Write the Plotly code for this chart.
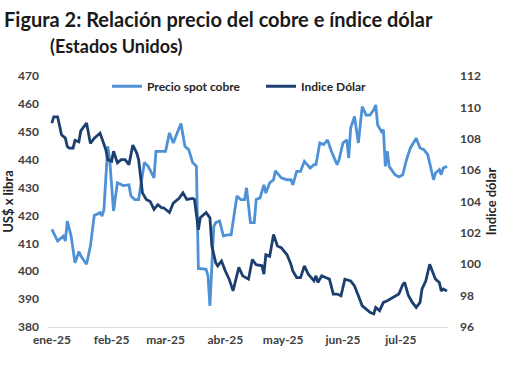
import plotly.graph_objects as go

copper_dates = [
    "2025-01-01", "2025-01-04", "2025-01-07", "2025-01-08", "2025-01-09", "2025-01-11",
    "2025-01-13", "2025-01-15", "2025-01-16", "2025-01-19", "2025-01-21", "2025-01-23",
    "2025-01-26", "2025-01-27", "2025-01-28", "2025-01-30", "2025-01-31", "2025-02-02",
    "2025-02-04", "2025-02-07", "2025-02-10", "2025-02-11", "2025-02-13", "2025-02-15",
    "2025-02-18", "2025-02-20", "2025-02-23", "2025-02-24", "2025-02-26", "2025-03-01",
    "2025-03-03", "2025-03-05", "2025-03-07", "2025-03-09", "2025-03-11", "2025-03-13",
    "2025-03-15", "2025-03-17", "2025-03-18", "2025-03-22", "2025-03-23", "2025-03-24",
    "2025-03-26", "2025-03-27", "2025-03-29", "2025-03-31", "2025-04-02", "2025-04-04",
    "2025-04-07", "2025-04-09", "2025-04-11", "2025-04-12", "2025-04-14", "2025-04-16",
    "2025-04-17", "2025-04-19", "2025-04-21", "2025-04-22", "2025-04-24", "2025-04-26",
    "2025-04-27", "2025-04-30", "2025-05-03", "2025-05-05", "2025-05-06", "2025-05-08",
    "2025-05-10", "2025-05-12", "2025-05-15", "2025-05-17", "2025-05-18", "2025-05-20",
    "2025-05-22", "2025-05-24", "2025-05-26", "2025-05-29", "2025-05-30", "2025-06-01",
    "2025-06-03", "2025-06-04", "2025-06-05", "2025-06-07", "2025-06-09", "2025-06-11",
    "2025-06-13", "2025-06-15", "2025-06-17", "2025-06-18", "2025-06-19", "2025-06-21",
    "2025-06-22", "2025-06-23", "2025-06-24", "2025-06-25", "2025-06-28", "2025-06-30",
    "2025-07-02", "2025-07-04", "2025-07-06", "2025-07-09", "2025-07-11", "2025-07-13",
    "2025-07-15", "2025-07-17", "2025-07-18", "2025-07-19", "2025-07-21", "2025-07-22",
    "2025-07-23", "2025-07-25",
]
copper_values = [
    415.0, 410.8, 412.6, 410.8, 418.0, 412.6,
    403.0, 407.0, 405.5, 402.5, 409.0, 420.0,
    421.0, 419.8, 422.0, 444.8, 440.0, 421.6,
    431.7, 430.7, 431.0, 427.0, 425.7, 425.7,
    439.0, 437.6, 433.5, 443.0, 443.0, 443.0,
    449.6, 446.0, 449.6, 453.0, 444.8, 443.6,
    439.0, 437.6, 401.0, 400.7, 398.3, 387.6,
    416.0, 417.4, 418.0, 412.6, 413.0, 413.0,
    427.0, 425.7, 425.7, 429.9, 417.4, 417.4,
    425.7, 426.3, 431.0, 428.0, 431.7, 432.8,
    436.0, 433.5, 432.8, 432.8, 431.0, 435.8,
    435.8, 439.4, 437.0, 438.2, 438.2, 446.0,
    445.4, 447.1, 443.0, 438.2, 440.0, 446.0,
    447.1, 440.6, 451.3, 455.5, 446.0, 459.0,
    456.0, 456.0, 457.9, 459.6, 452.5, 450.0,
    450.7, 437.6, 443.0, 437.6, 434.6, 433.8,
    434.6, 440.0, 444.2, 447.7, 444.2, 443.6,
    441.8, 436.4, 432.8, 435.2, 436.4, 434.6,
    437.0, 437.6,
]

dollar_dates = [
    "2025-01-01", "2025-01-02", "2025-01-04", "2025-01-06", "2025-01-08", "2025-01-09",
    "2025-01-10", "2025-01-12", "2025-01-13", "2025-01-15", "2025-01-16", "2025-01-19",
    "2025-01-21", "2025-01-23", "2025-01-26", "2025-01-27", "2025-01-29", "2025-01-30",
    "2025-02-01", "2025-02-02", "2025-02-04", "2025-02-06", "2025-02-08", "2025-02-10",
    "2025-02-12", "2025-02-14", "2025-02-15", "2025-02-17", "2025-02-19", "2025-02-21",
    "2025-02-23", "2025-02-25", "2025-02-27", "2025-02-28", "2025-03-03", "2025-03-05",
    "2025-03-08", "2025-03-10", "2025-03-12", "2025-03-15", "2025-03-16", "2025-03-18",
    "2025-03-19", "2025-03-22", "2025-03-24", "2025-03-25", "2025-03-27", "2025-03-28",
    "2025-03-30", "2025-04-01", "2025-04-03", "2025-04-05", "2025-04-08", "2025-04-10",
    "2025-04-13", "2025-04-15", "2025-04-17", "2025-04-20", "2025-04-21", "2025-04-22",
    "2025-04-24", "2025-04-26", "2025-04-28", "2025-04-30", "2025-05-03", "2025-05-05",
    "2025-05-06", "2025-05-08", "2025-05-10", "2025-05-12", "2025-05-14", "2025-05-17",
    "2025-05-18", "2025-05-19", "2025-05-21", "2025-05-23", "2025-05-25", "2025-05-27",
    "2025-05-29", "2025-05-31", "2025-06-02", "2025-06-05", "2025-06-07", "2025-06-09",
    "2025-06-11", "2025-06-12", "2025-06-15", "2025-06-17", "2025-06-18", "2025-06-20",
    "2025-06-22", "2025-06-24", "2025-06-27", "2025-06-28", "2025-06-30", "2025-07-02",
    "2025-07-03", "2025-07-04", "2025-07-05", "2025-07-07", "2025-07-09", "2025-07-11",
    "2025-07-12", "2025-07-14", "2025-07-16", "2025-07-17", "2025-07-19", "2025-07-21",
    "2025-07-22", "2025-07-23", "2025-07-25",
]
dollar_values = [
    109.0, 109.4, 109.4, 108.25, 108.04, 107.5,
    107.4, 107.4, 107.9, 107.8, 108.5, 109.0,
    107.7, 108.04, 108.36, 108.04, 107.3, 106.67,
    106.56, 107.2, 106.46, 106.67, 106.67, 106.35,
    107.6, 107.1, 106.67, 104.55, 104.13, 104.0,
    103.5, 103.8, 103.6, 103.6, 103.3, 103.9,
    104.2, 104.55, 104.13, 104.2, 104.13, 102.2,
    102.96, 103.3, 102.96, 101.16, 100.1, 99.9,
    100.2, 99.57, 99.05, 98.3, 99.8, 99.26,
    99.05, 100.3, 99.97, 99.9, 99.37, 100.6,
    100.5, 101.9, 101.16, 101.06, 100.6, 100.0,
    99.57, 99.15, 99.15, 99.9, 99.37, 98.94,
    99.26, 98.84, 99.26, 99.15, 99.05, 98.1,
    98.1, 97.99, 99.05, 98.94, 98.62, 97.99,
    97.35, 97.25, 96.93, 96.83, 97.25, 97.04,
    97.57, 97.67, 97.89, 97.99, 98.1, 98.7,
    98.84, 98.42, 97.99, 97.57, 97.25, 97.57,
    98.42, 98.94, 100.0, 99.68, 99.05, 98.84,
    98.3, 98.42, 98.3,
]

month_ticks = ["2025-01-01", "2025-02-01", "2025-03-01", "2025-04-01",
               "2025-05-01", "2025-06-01", "2025-07-01"]
month_labels = ["ene-25", "feb-25", "mar-25", "abr-25", "may-25", "jun-25", "jul-25"]
left_ticks = [380, 390, 400, 410, 420, 430, 440, 450, 460, 470]
right_ticks = [96, 98, 100, 102, 104, 106, 108, 110, 112]

FONT = "Lato"
TXT = "#404040"

fig = go.Figure()
fig.add_trace(go.Scatter(
    x=copper_dates, y=copper_values, name="Precio spot cobre", mode="lines",
    line=dict(color="#4F91D6", width=2.8), yaxis="y",
))
fig.add_trace(go.Scatter(
    x=dollar_dates, y=dollar_values, name="Indice Dólar", mode="lines",
    line=dict(color="#1C3F6E", width=2.8), yaxis="y2",
))

fig.update_layout(
    width=510, height=382,
    margin=dict(l=48, r=62, t=76, b=55, autoexpand=False),
    paper_bgcolor="white", plot_bgcolor="white",
    font=dict(family=FONT, color=TXT, size=12),
    showlegend=True,
    legend=dict(
        orientation="h", x=0.1475, y=1.017, xanchor="left", yanchor="top",
        font=dict(family=FONT, size=12, color="#262626", weight="bold"),
        bgcolor="rgba(0,0,0,0)", entrywidth=109, itemwidth=30,
    ),
    xaxis=dict(
        type="date", range=["2024-12-30", "2025-07-25 12:00"], automargin=False,
        tickvals=month_ticks, ticktext=month_labels, ticks="",
        showgrid=False, zeroline=False, showline=True, linecolor="#D9D9D9", linewidth=1,
        tickfont=dict(family=FONT, size=12, color=TXT, weight="bold"),
        ticklabelstandoff=2,
    ),
    yaxis=dict(
        range=[380, 470], tickvals=left_ticks, ticks="", automargin=False,
        showgrid=False, zeroline=False, showline=False,
        tickfont=dict(family=FONT, size=12, color=TXT, weight="bold"),
        ticklabelstandoff=8,
        title=dict(text="US$ x libra", font=dict(family=FONT, size=13, color="#262626", weight="bold"), standoff=6),
    ),
    yaxis2=dict(
        range=[96, 112], tickvals=right_ticks, ticks="", overlaying="y", side="right",
        automargin=False,
        showgrid=False, zeroline=False, showline=False,
        tickfont=dict(family=FONT, size=12, color=TXT, weight="bold"),
        ticklabelstandoff=11,
        title=dict(text="Indice dólar", font=dict(family=FONT, size=13, color="#262626", weight="bold"), standoff=6),
    ),
    annotations=[
        dict(text="<b>Figura 2: Relación precio del cobre e índice dólar</b>",
             xref="paper", yref="paper", x=-0.115, y=1.0, xanchor="left", yanchor="bottom",
             yshift=43, showarrow=False, font=dict(family=FONT, size=20, color="#1a1a1a")),
        dict(text="<b>(Estados Unidos)</b>",
             xref="paper", yref="paper", x=0.0, y=1.0, xanchor="left", yanchor="bottom",
             yshift=17, showarrow=False, font=dict(family=FONT, size=18, color="#1a1a1a")),
    ],
)

fig.write_html(
    "out.html",
    config={"displayModeBar": False},
    post_script="document.body.style.margin='0';document.body.style.padding='0';",
)
